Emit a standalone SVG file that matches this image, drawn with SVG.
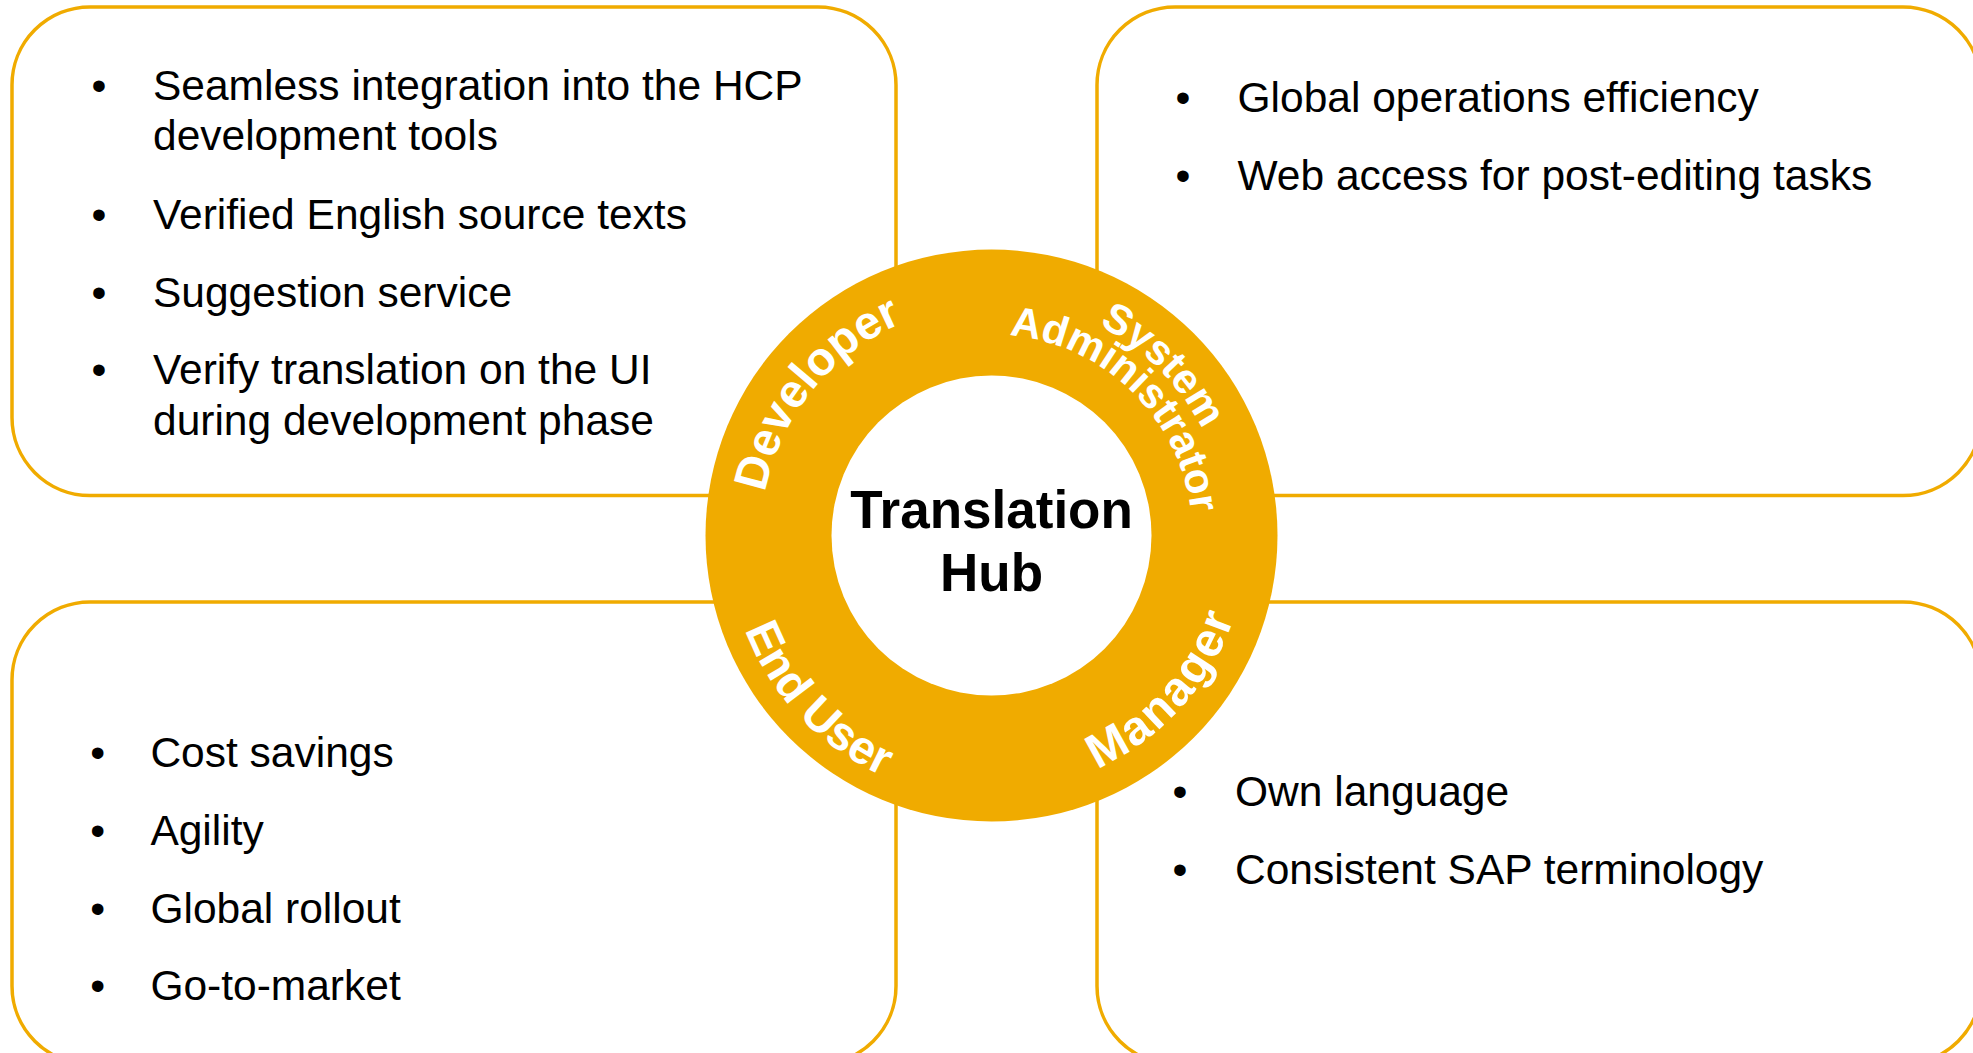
<svg xmlns="http://www.w3.org/2000/svg" width="1973" height="1053" viewBox="0 0 1973 1053">
  <style>
    .box { fill: #ffffff; stroke: #F0AB00; stroke-width: 3.5; }
    .item { font-family: "Liberation Sans", Arial, sans-serif; font-size: 42.5px; fill: #000000; }
    .hub { font-family: "Liberation Sans", Arial, sans-serif; font-size: 53px; font-weight: bold; fill: #000000; text-anchor: middle; }
    .role { font-family: "Liberation Sans", Arial, sans-serif; font-weight: bold; fill: #ffffff; text-anchor: middle; }
  </style>
  <defs>
    <path id="pDev" d="M831.38,701.30 A230.5,230.5 0 0 1 1120.39,344.42"/>
    <path id="pSys" d="M840.44,354.18 A236,236 0 0 1 1171.76,687.84"/>
    <path id="pAdm" d="M860.43,383.12 A201,201 0 0 1 1147.03,662.81"/>
    <path id="pEnd" d="M794.40,359.89 A264,264 0 0 0 1155.13,742.69"/>
    <path id="pMgr" d="M837.44,739.94 A256,256 0 0 0 1178.74,360.91"/>
  </defs>
  <rect width="1973" height="1053" fill="#ffffff"/>

  <g id="developer-box">
    <rect class="box" x="12" y="7" width="884" height="488.5" rx="78" ry="78"/>
    <text class="item" x="91.6" y="100">•</text>
    <text class="item" x="153" y="100">Seamless integration into the HCP</text>
    <text class="item" x="153" y="150">development tools</text>
    <text class="item" x="91.6" y="228.5">•</text>
    <text class="item" x="153" y="228.5">Verified English source texts</text>
    <text class="item" x="91.6" y="307">•</text>
    <text class="item" x="153" y="307">Suggestion service</text>
    <text class="item" x="91.6" y="384">•</text>
    <text class="item" x="153" y="384">Verify translation on the UI</text>
    <text class="item" x="153" y="435">during development phase</text>
  </g>

  <g id="sysadmin-box">
    <rect class="box" x="1097" y="7" width="884" height="488.5" rx="78" ry="78"/>
    <text class="item" x="1175.6" y="111.5">•</text>
    <text class="item" x="1237.5" y="111.5">Global operations efficiency</text>
    <text class="item" x="1175.6" y="189.5">•</text>
    <text class="item" x="1237.5" y="189.5">Web access for post-editing tasks</text>
  </g>

  <g id="enduser-box">
    <rect class="box" x="12" y="602" width="884" height="462" rx="78" ry="78"/>
    <text class="item" x="90.2" y="766.5">•</text>
    <text class="item" x="150.4" y="766.5">Cost savings</text>
    <text class="item" x="90.2" y="844.5">•</text>
    <text class="item" x="150.4" y="844.5">Agility</text>
    <text class="item" x="90.2" y="922.5">•</text>
    <text class="item" x="150.4" y="922.5">Global rollout</text>
    <text class="item" x="90.2" y="1000">•</text>
    <text class="item" x="150.4" y="1000">Go-to-market</text>
  </g>

  <g id="manager-box">
    <rect class="box" x="1097" y="602" width="884" height="462" rx="78" ry="78"/>
    <text class="item" x="1172.6" y="805.5">•</text>
    <text class="item" x="1235" y="805.5">Own language</text>
    <text class="item" x="1172.6" y="883.5">•</text>
    <text class="item" x="1235" y="883.5">Consistent SAP terminology</text>
  </g>

  <g id="translation-hub">
    <circle cx="991.5" cy="535.5" r="286" fill="#F0AB00"/>
    <circle cx="991.5" cy="535.5" r="160" fill="#ffffff"/>
    <text class="hub" x="991.5" y="527.7">Translation</text>
    <text class="hub" x="991.5" y="591">Hub</text>
    <text class="role" font-size="47"><textPath href="#pDev" startOffset="50%">Developer</textPath></text>
    <text class="role" font-size="42"><textPath href="#pSys" startOffset="50%">System</textPath></text>
    <text class="role" font-size="42"><textPath href="#pAdm" startOffset="50%">Administrator</textPath></text>
    <text class="role" font-size="47"><textPath href="#pEnd" startOffset="50%">End User</textPath></text>
    <text class="role" font-size="48" letter-spacing="2"><textPath href="#pMgr" startOffset="50%">Manager</textPath></text>
  </g>
</svg>
